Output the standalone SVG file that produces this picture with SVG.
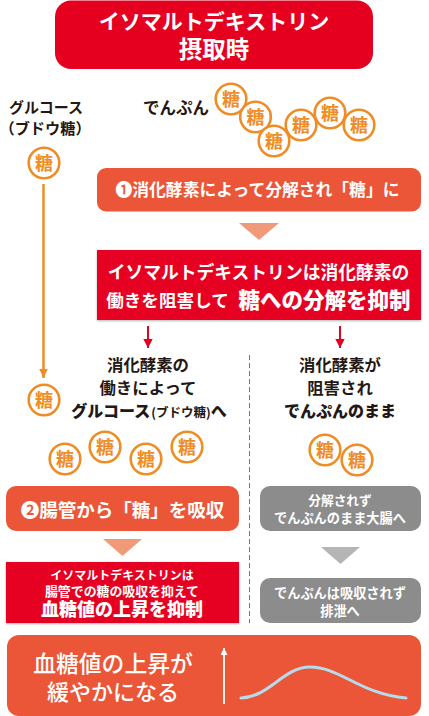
<svg xmlns="http://www.w3.org/2000/svg" width="429" height="716" viewBox="0 0 429 716">
<style>
text{font-family:"Noto Sans CJK JP","Noto Sans",sans-serif;text-anchor:middle;font-weight:500}
.w{fill:#fff}.k{fill:#231815}.b{font-weight:700}.h{font-weight:900}
.red{fill:#e60020}.or{fill:#eb5638}.gr{fill:#8c8c8c}
.shadow{filter:url(#sh)}
.c circle{fill:#fff;stroke:#ee8c25;stroke-width:2.6}
.c text{fill:#ee8c25;font-size:18px;font-weight:700}
.tri1{fill:#f19a7a}.tri2{fill:#b5b5b5}
</style>
<defs>
<filter id="sh" x="-5%" y="-10%" width="110%" height="125%"><feDropShadow dx="0" dy="1" stdDeviation="1.2" flood-color="#000" flood-opacity="0.3"/></filter>
<g id="s" class="c"><circle r="15.3"/><text y="6.5">糖</text></g>
<marker id="ao" markerUnits="userSpaceOnUse" markerWidth="10" markerHeight="9" refX="9.500" refY="4.500" orient="auto"><path d="M0 0L9.500 4.500L0 9Z" fill="#ee8c25"/></marker>
<marker id="ar" markerUnits="userSpaceOnUse" markerWidth="10" markerHeight="10" refX="9.500" refY="5" orient="auto"><path d="M0 0L9.500 5L0 10Z" fill="#e60020"/></marker>
<marker id="aw" markerUnits="userSpaceOnUse" markerWidth="8" markerHeight="8" refX="7" refY="3.500" orient="auto"><path d="M0 0L7 3.500L0 7Z" fill="#fff"/></marker>
</defs>
<rect width="429" height="716" fill="#fff"/>
<g id="connectors">
<line x1="43.500" y1="184" x2="43.500" y2="378" stroke="#ee8c25" stroke-width="2.500" marker-end="url(#ao)"/>
<line x1="148" y1="326" x2="148" y2="348" stroke="#e60020" stroke-width="2" marker-end="url(#ar)"/>
<line x1="340" y1="326" x2="340" y2="348" stroke="#e60020" stroke-width="2" marker-end="url(#ar)"/>
<line x1="249.500" y1="355" x2="249.500" y2="623" stroke="#777" stroke-width="1" stroke-dasharray="5 3"/>
<path class="tri1" d="M239 223H279L259 240Z"/>
<path class="tri1" d="M103 539H142L122.500 556Z"/>
<path class="tri2" d="M321 547H360L340.500 564Z"/>
</g>
<g id="header"><rect class="red" x="55" y="0.500" width="318" height="68.500" rx="16"/>
<text class="w b" x="214" y="29" font-size="21">イソマルトデキストリン</text>
<text class="w b" x="214" y="58" font-size="23.500">摂取時</text></g>
<g id="glucose-label"><text class="k b" x="46" y="113" font-size="15">グルコース</text><text class="k b" x="45" y="134" font-size="15.200">（ブドウ糖）</text></g>
<g id="starch-label"><text class="k b" x="176" y="114" font-size="16.500">でんぷん</text></g>
<g id="starch-sugars">
<use href="#s" x="231" y="99"/><use href="#s" x="255.500" y="117"/><use href="#s" x="274" y="141"/><use href="#s" x="301" y="125"/><use href="#s" x="330" y="113"/><use href="#s" x="359" y="125"/>
</g>
<g id="glucose-sugar-1"><use href="#s" x="44" y="163"/></g>
<g id="glucose-sugar-2"><use href="#s" x="44" y="400"/></g>
<g id="step1"><rect class="or" x="97" y="168" width="324" height="43.500" rx="9"/>
<text class="w b" x="257.500" y="196" font-size="16.800">❶消化酵素によって分解され「糖」に</text></g>
<g id="inhibit1"><rect class="red shadow" x="97" y="250" width="324" height="70"/>
<text class="w b" x="258.500" y="278.500" font-size="17.800">イソマルトデキストリンは消化酵素の</text>
<text class="w b" x="167.500" y="306.500" font-size="17.600">働きを阻害して</text>
<text class="w h" x="324.500" y="307.500" font-size="21.500">糖への分解を抑制</text></g>
<g id="left-text"><text class="k b" x="148" y="371" font-size="16.400">消化酵素の</text><text class="k b" x="148" y="394" font-size="16.400">働きによって</text>
<text class="k h" x="149" y="417" font-size="16">グルコース<tspan font-size="12.500" font-weight="700" dx="1">(ブドウ糖)</tspan>へ</text></g>
<g id="right-text"><text class="k b" x="340" y="371" font-size="16.400">消化酵素が</text><text class="k b" x="340" y="394" font-size="16.400">阻害され</text><text class="k h" x="340" y="417" font-size="16">でんぷんのまま</text></g>
<g id="glucose-sugars"><use href="#s" x="65" y="459"/><use href="#s" x="105" y="447"/><use href="#s" x="146" y="459"/><use href="#s" x="187" y="447"/></g>
<g id="starch-sugars-2"><use href="#s" x="325" y="450"/><use href="#s" x="357" y="460"/></g>
<g id="step2"><rect class="or" x="6" y="486" width="233" height="45" rx="10"/>
<text class="w b" x="122.500" y="517" font-size="18.500">❷腸管から「糖」を吸収</text></g>
<g id="inhibit2"><rect class="red shadow" x="6" y="562" width="233" height="61"/>
<text class="w b" x="122" y="580" font-size="12">イソマルトデキストリンは</text>
<text class="w b" x="122" y="596" font-size="12.900">腸管での糖の吸収を抑えて</text>
<text class="w h" x="122" y="616" font-size="18">血糖値の上昇を抑制</text></g>
<g id="gray1"><rect class="gr" x="260" y="486" width="161" height="45" rx="10"/>
<text class="w b" x="340" y="505" font-size="12.700">分解されず</text><text class="w b" x="340" y="523" font-size="13.200">でんぷんのまま大腸へ</text></g>
<g id="gray2"><rect class="gr" x="260" y="578" width="161" height="45" rx="10"/>
<text class="w b" x="340" y="598" font-size="13.200">でんぷんは吸収されず</text><text class="w b" x="340" y="616" font-size="13.200">排泄へ</text></g>
<g id="result"><rect class="or" x="7" y="635" width="414" height="81" rx="12"/>
<text class="w" x="113" y="672" font-size="22.800">血糖値の上昇が</text>
<text class="w" x="113" y="700" font-size="22">緩やかになる</text>
<line x1="224" y1="704" x2="224" y2="648" stroke="#fff" stroke-width="1.800" marker-end="url(#aw)"/>
<path d="M241 698C270 697 283 667 310 667C340 667 360 694 406 698" fill="none" stroke="#b5dcec" stroke-width="3" stroke-linecap="round"/></g>
</svg>
